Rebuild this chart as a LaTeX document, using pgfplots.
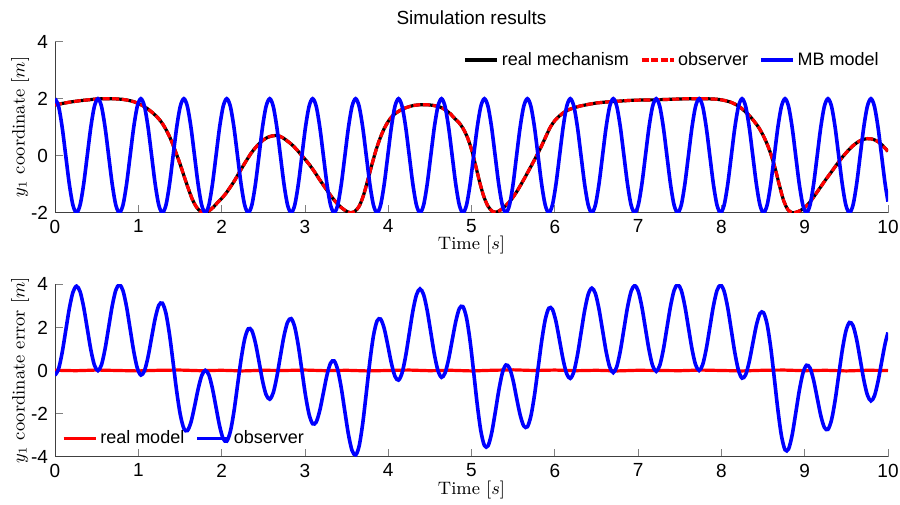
\documentclass[border=0pt]{standalone}
\usepackage{fontspec}
\usepackage{pgfplots}
\usepackage{pgfplotstable}
\pgfplotsset{compat=1.18}
\newfontfamily\arial{Liberation Sans}

% real mechanism trajectory y1(t)
\pgfplotstableread{
t real
0.00 1.78
0.05 1.81
0.10 1.84
0.15 1.865
0.20 1.89
0.25 1.91
0.30 1.93
0.35 1.945
0.40 1.96
0.45 1.975
0.50 1.99
0.55 1.995
0.60 2.00
0.65 2.00
0.70 2.00
0.75 1.99
0.80 1.98
0.85 1.96
0.90 1.93
0.95 1.89
1.00 1.83
1.05 1.76
1.10 1.67
1.15 1.56
1.20 1.43
1.25 1.28
1.30 1.08
1.35 0.82
1.40 0.50
1.45 0.12
1.50 -0.28
1.55 -0.72
1.60 -1.15
1.65 -1.54
1.70 -1.81
1.75 -1.96
1.80 -2.00
1.85 -1.93
1.90 -1.81
1.95 -1.65
2.00 -1.50
2.05 -1.33
2.10 -1.12
2.15 -0.90
2.20 -0.65
2.25 -0.40
2.30 -0.16
2.35 0.07
2.40 0.26
2.45 0.42
2.50 0.55
2.55 0.64
2.60 0.69
2.65 0.71
2.70 0.68
2.75 0.60
2.80 0.49
2.85 0.37
2.90 0.22
2.95 0.05
3.00 -0.12
3.05 -0.30
3.10 -0.50
3.15 -0.72
3.20 -0.94
3.25 -1.15
3.30 -1.36
3.35 -1.55
3.40 -1.72
3.45 -1.85
3.50 -1.95
3.55 -2.00
3.60 -1.95
3.65 -1.78
3.70 -1.42
3.75 -0.91
3.80 -0.36
3.85 0.16
3.90 0.59
3.95 0.94
4.00 1.20
4.05 1.39
4.10 1.51
4.15 1.60
4.20 1.67
4.25 1.72
4.30 1.76
4.35 1.78
4.40 1.79
4.45 1.79
4.50 1.78
4.55 1.76
4.60 1.73
4.65 1.67
4.70 1.58
4.75 1.46
4.80 1.30
4.85 1.16
4.90 0.95
4.95 0.65
5.00 0.22
5.05 -0.35
5.10 -0.95
5.15 -1.45
5.20 -1.78
5.25 -1.95
5.30 -1.98
5.35 -1.90
5.40 -1.78
5.45 -1.64
5.50 -1.45
5.55 -1.23
5.60 -0.98
5.65 -0.72
5.70 -0.45
5.75 -0.18
5.80 0.10
5.85 0.40
5.90 0.72
5.95 1.02
6.00 1.23
6.05 1.38
6.10 1.50
6.15 1.59
6.20 1.65
6.25 1.70
6.30 1.74
6.35 1.77
6.40 1.80
6.45 1.825
6.50 1.85
6.55 1.865
6.60 1.88
6.65 1.89
6.70 1.90
6.75 1.91
6.80 1.92
6.85 1.93
6.90 1.94
6.95 1.945
7.00 1.95
7.05 1.953
7.10 1.955
7.15 1.958
7.20 1.96
7.25 1.965
7.30 1.97
7.35 1.975
7.40 1.98
7.45 1.985
7.50 1.99
7.55 1.995
7.60 2.00
7.65 2.00
7.70 2.00
7.75 2.00
7.80 2.00
7.85 1.995
7.90 1.99
7.95 1.98
8.00 1.96
8.05 1.93
8.10 1.89
8.15 1.83
8.20 1.75
8.25 1.64
8.30 1.51
8.35 1.36
8.40 1.18
8.45 0.98
8.50 0.72
8.55 0.40
8.60 0.00
8.65 -0.50
8.70 -1.08
8.75 -1.60
8.80 -1.90
8.85 -2.00
8.90 -1.98
8.95 -1.92
9.00 -1.82
9.05 -1.67
9.10 -1.48
9.15 -1.27
9.20 -1.06
9.25 -0.85
9.30 -0.65
9.35 -0.45
9.40 -0.25
9.45 -0.06
9.50 0.11
9.55 0.27
9.60 0.40
9.65 0.50
9.70 0.57
9.75 0.60
9.80 0.59
9.85 0.54
9.90 0.45
9.95 0.31
10.00 0.15
}\realtab

% MB model output and observer error (real - MB)
\pgfplotstableread{
t mb err
0.000 2 -0.220
0.043 1.732 0.074
0.086 1 0.832
0.129 0 1.854
0.172 -1 2.876
0.215 -1.732 3.628
0.258 -2 3.913
0.301 -1.732 3.662
0.344 -1 2.943
0.387 0 1.956
0.430 1 0.969
0.473 1.732 0.250
0.516 2 -0.008
0.558 1.732 0.264
0.601 1 1.000
0.644 0 2.000
0.687 -1 3.000
0.730 -1.732 3.726
0.773 -2 3.985
0.816 -1.732 3.706
0.859 -1 2.955
0.902 0 1.928
0.945 1 0.894
0.988 1.732 0.112
1.031 2 -0.213
1.074 1.732 -0.015
1.117 1 0.633
1.160 0 1.534
1.203 -1 2.421
1.246 -1.732 3.024
1.289 -2 3.124
1.332 -1.732 2.646
1.375 -1 1.660
1.418 0 0.363
1.461 1 -0.968
1.504 1.732 -2.047
1.547 2 -2.689
1.589 1.732 -2.792
1.632 1 -2.404
1.675 0 -1.675
1.718 -1 -0.866
1.761 -1.732 -0.237
1.804 -2 0.006
1.847 -1.732 -0.202
1.890 -1 -0.833
1.933 0 -1.704
1.976 1 -2.572
2.019 1.732 -3.167
2.062 2 -3.280
2.105 1.732 -2.830
2.148 1 -1.909
2.191 0 -0.695
2.234 -1 0.520
2.277 -1.732 1.462
2.320 -2 1.932
2.363 -1.732 1.851
2.406 -1 1.279
2.449 0 0.417
2.491 1 -0.473
2.534 1.732 -1.121
2.578 2 -1.332
2.620 1.732 -1.034
2.663 1 -0.298
2.706 0 0.670
2.749 -1 1.602
2.792 -1.732 2.240
2.835 -2 2.406
2.878 -1.732 2.018
2.921 -1 1.149
2.964 0 0.002
3.007 1 -1.145
3.050 1.732 -2.032
3.093 2 -2.472
3.136 1.732 -2.390
3.179 1 -1.848
3.222 0 -1.032
3.265 -1 -0.213
3.308 -1.732 0.342
3.351 -2 0.446
3.394 -1.732 0.032
3.437 -1 -0.816
3.480 0 -1.910
3.523 1 -2.973
3.566 1.732 -3.716
3.609 2 -3.921
3.651 1.732 -3.505
3.694 1 -2.463
3.737 0 -1.043
3.780 -1 0.420
3.823 -1.732 1.611
3.866 -2 2.298
3.909 -1.732 2.385
3.952 -1 1.950
3.995 0 1.174
4.038 1 0.344
4.081 1.732 -0.268
4.124 2 -0.447
4.167 1.732 -0.108
4.210 1 0.680
4.253 0 1.722
4.296 -1 2.757
4.339 -1.732 3.508
4.382 -2 3.786
4.425 -1.732 3.522
4.468 -1 2.786
4.511 0 1.776
4.554 1 0.758
4.597 1.732 0.000
4.640 2 -0.317
4.682 1.732 -0.120
4.725 1 0.520
4.768 0 1.402
4.811 -1 2.269
4.854 -1.732 2.875
4.897 -2 2.963
4.940 -1.732 2.442
4.983 -1 1.366
5.026 0 -0.076
5.069 1 -1.578
5.112 1.732 -2.802
5.155 2 -3.483
5.198 1.732 -3.499
5.241 1 -2.919
5.284 0 -1.970
5.327 -1 -0.937
5.370 -1.732 -0.120
5.413 -2 0.256
5.456 -1.732 0.115
5.499 -1 -0.454
5.541 0 -1.270
5.584 1 -2.060
5.627 1.732 -2.572
5.671 2 -2.609
5.713 1.732 -2.112
5.756 1 -1.146
5.799 0 0.094
5.842 -1 1.352
5.885 -1.732 2.356
5.928 -2 2.888
5.971 -1.732 2.840
6.014 -1 2.272
6.057 0 1.397
6.100 1 0.500
6.143 1.732 -0.155
6.186 2 -0.367
6.229 1.732 -0.053
6.272 1 0.718
6.315 0 1.749
6.358 -1 2.775
6.401 -1.732 3.532
6.444 -2 3.822
6.487 -1.732 3.576
6.530 -1 2.859
6.573 0 1.872
6.616 1 0.883
6.659 1.732 0.160
6.702 2 -0.100
6.744 1.732 0.177
6.787 1 0.917
6.830 0 1.926
6.873 -1 2.935
6.916 -1.732 3.674
6.959 -2 3.946
7.002 -1.732 3.682
7.045 -1 2.953
7.088 0 1.955
7.131 1 0.957
7.174 1.732 0.227
7.217 2 -0.038
7.260 1.732 0.234
7.303 1 0.970
7.346 0 1.975
7.389 -1 2.979
7.432 -1.732 3.715
7.475 -2 3.987
7.518 -1.732 3.724
7.561 -1 2.996
7.604 0 2.000
7.647 1 1.000
7.690 1.732 0.268
7.733 2 0.000
7.775 1.732 0.268
7.818 1 0.998
7.861 0 1.994
7.904 -1 2.989
7.947 -1.732 3.713
7.990 -2 3.964
8.033 -1.732 3.672
8.076 -1 2.909
8.119 0 1.867
8.162 1 0.811
8.205 1.732 0.007
8.248 2 -0.356
8.291 1.732 -0.199
8.334 1 0.408
8.377 0 1.263
8.420 -1 2.100
8.463 -1.732 2.644
8.506 -2 2.682
8.549 -1.732 2.138
8.592 -1 1.064
8.635 0 -0.350
8.678 1 -1.825
8.721 1.732 -3.030
8.764 2 -3.681
8.806 1.732 -3.644
8.849 1 -2.998
8.892 0 -1.983
8.935 -1 -0.938
8.978 -1.732 -0.132
9.021 -2 0.243
9.064 -1.732 0.115
9.107 -1 -0.451
9.150 0 -1.270
9.193 1 -2.089
9.236 1.732 -2.641
9.279 2 -2.734
9.322 1.732 -2.294
9.365 1 -1.390
9.408 0 -0.220
9.451 -1 0.940
9.494 -1.732 1.822
9.537 -2 2.228
9.580 -1.732 2.080
9.623 -1 1.446
9.666 0 0.522
9.709 1 -0.425
9.752 1.732 -1.132
9.795 2 -1.409
9.837 1.732 -1.179
9.880 1 -0.514
9.923 0 0.386
9.966 -1 1.259
10.000 -1.612 1.762
}\mbtab

% error of the real model (measurement noise only)
\pgfplotstableread{
t e
0.00 0.01
0.25 -0.01
0.50 0.02
0.75 0.00
1.00 -0.02
1.25 0.01
1.50 0.02
1.75 -0.01
2.00 0.01
2.25 -0.02
2.50 0.01
2.75 0.00
3.00 0.02
3.25 -0.01
3.50 0.01
3.75 -0.02
4.00 0.00
4.25 0.02
4.50 -0.01
4.75 0.01
5.00 -0.02
5.25 0.01
5.50 0.03
5.75 0.00
6.00 0.02
6.25 -0.01
6.50 0.01
6.75 -0.02
7.00 0.01
7.25 0.00
7.50 -0.01
7.75 0.02
8.00 0.00
8.25 -0.02
8.50 0.01
8.75 0.02
9.00 -0.01
9.25 0.01
9.50 -0.02
9.75 0.01
10.00 0.00
}\noisetab

\pgfplotsset{
  simaxis/.style={
    scale only axis,
    width=416.5pt,
    xmin=0, xmax=10,
    xtick={0,1,...,10},
    axis x line*=bottom,
    axis y line*=left,
    tick align=inside,
    major tick length=4pt,
    major tick style={black!50, line width=0.4pt},
    axis line style={black!75, line width=0.5pt},
    tick label style={font=\arial\fontsize{9.5}{11}\selectfont},
    /pgf/number format/assume math mode=true,
    legend cell align=left,
  },
  simlegend/.style={
    draw=none, fill=none, inner sep=0pt,
    font=\arial\fontsize{9}{11}\selectfont,
    nodes={inner sep=1.5pt},
    /tikz/every even column/.append style={column sep=4pt},
  },
}

\begin{document}
\begin{tikzpicture}[x=1pt,y=1pt]
\path[use as bounding box] (0,0) rectangle (450,252);

% upper panel: trajectories
\begin{axis}[
  simaxis,
  at={(27.5pt,145.65pt)}, anchor=south west,
  height=85.5pt,
  ymin=-2, ymax=4, ytick={-2,0,2,4},
  legend columns=3,
  legend style={simlegend, at={(0.993,0.893)}, anchor=east},
  legend image code/.code={\draw[#1] (0pt,0pt) -- (16pt,0pt);},
]
\addplot[black, line width=1.6pt, smooth] table[x=t, y=real] {\realtab};
\addlegendentry{real mechanism}
\addplot[red, line width=1.6pt, smooth, dash pattern=on 3.5pt off 1.3pt] table[x=t, y=real] {\realtab};
\addlegendentry{observer}
\addplot[blue, line width=1.8pt, smooth] table[x=t, y=mb] {\mbtab};
\addlegendentry{MB model}
\end{axis}

% lower panel: errors
\begin{axis}[
  simaxis,
  at={(27.5pt,23.65pt)}, anchor=south west,
  height=86.2pt,
  ymin=-4, ymax=4, ytick={-4,-2,0,2,4},
  legend columns=2,
  legend style={simlegend, at={(0.008,0.105)}, anchor=west},
  legend image code/.code={\draw[#1] (0pt,0pt) -- (16pt,0pt);},
]
\addplot[red, line width=1.6pt] table[x=t, y=e] {\noisetab};
\addlegendentry{real model}
\addplot[blue, line width=1.8pt, smooth] table[x=t, y=err] {\mbtab};
\addlegendentry{observer}
\end{axis}

\node[font=\arial\fontsize{9.5}{11}\selectfont] at (235.75,243) {Simulation results};
\node[font=\fontsize{9}{11}\selectfont, rotate=90] at (10,188.4) {$y_1$ coordinate $[m]$};
\node[font=\fontsize{9}{11}\selectfont, rotate=90] at (10,66.75) {$y_1$ coordinate error $[m]$};
\node[font=\fontsize{9}{11}\selectfont] at (235.75,129.5) {Time $[s]$};
\node[font=\fontsize{9}{11}\selectfont] at (235.75,7) {Time $[s]$};
\end{tikzpicture}
\end{document}
